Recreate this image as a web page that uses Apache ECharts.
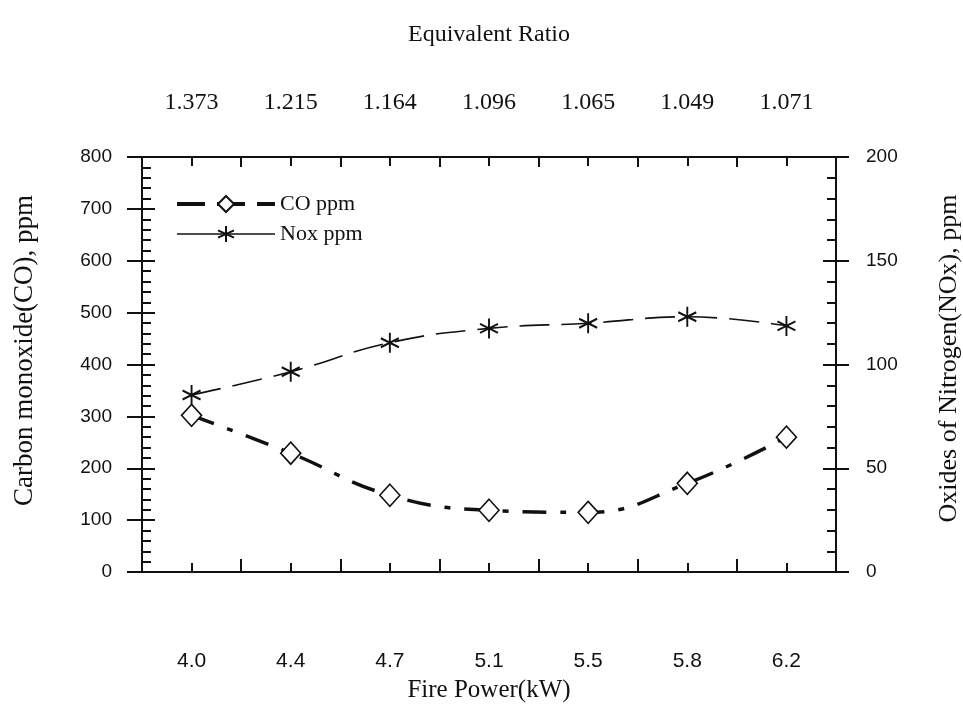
<!DOCTYPE html>
<html>
<head>
<meta charset="utf-8">
<style>
  html, body { margin: 0; padding: 0; background: #fff; }
  #chart { width: 963px; height: 705px; }
</style>
<script src="https://cdn.jsdelivr.net/npm/echarts@6/dist/echarts.min.js"></script>
</head>
<body>
<div id="chart"></div>
<script>
// Burner test: CO and NOx emissions against fire power, with equivalence ratio on top
const firePower = ['4.0', '4.4', '4.7', '5.1', '5.5', '5.8', '6.2'];
const equivalentRatio = ['1.373', '1.215', '1.164', '1.096', '1.065', '1.049', '1.071'];
const coPpm = [302, 229, 148, 119, 115, 171, 260];
const noxPpm = [85.3, 96.5, 110.5, 117.4, 119.9, 123, 118.6];

const serif = '"Liberation Serif", "Times New Roman", serif';
const sans = '"Liberation Sans", Arial, sans-serif';
const ink = '#111';
const starPath = 'path://M10,0L10,20M1.5,5.5L18.5,14.5M1.5,14.5L18.5,5.5';

const chart = echarts.init(document.getElementById('chart'), null, { renderer: 'canvas' });

const axisLine = { show: true, onZero: false, lineStyle: { color: ink, width: 2 } };
const hiddenLine = { show: false, onZero: false };
const tickStyle = { color: ink, width: 2 };

chart.setOption({
  animation: false,
  backgroundColor: '#fff',
  grid: { left: 142, right: 127, top: 157, bottom: 133, outerBoundsMode: 'none', containLabel: false },
  legend: {
    left: 170, top: 188, orient: 'vertical',
    itemWidth: 98, itemHeight: 20, itemGap: 8,
    textStyle: { fontFamily: serif, fontSize: 22, color: ink },
    data: [
      { name: 'CO ppm', lineStyle: { width: 4, type: [28, 12] } },
      { name: 'Nox ppm', lineStyle: { width: 1.6, type: 'solid' } }
    ]
  },
  xAxis: [
    { // bottom: fire power labels, ticks at category centres
      type: 'category', position: 'bottom', data: firePower, boundaryGap: true,
      name: 'Fire Power(kW)', nameLocation: 'middle', nameGap: 106,
      nameTextStyle: { fontFamily: serif, fontSize: 25, color: ink },
      axisLine: axisLine,
      axisTick: { show: true, inside: true, alignWithLabel: true, length: 9, lineStyle: tickStyle },
      axisLabel: { margin: 79, fontFamily: sans, fontSize: 21, color: ink },
      splitLine: { show: false }
    },
    { // top: equivalence ratio labels
      type: 'category', position: 'top', data: equivalentRatio, boundaryGap: true,
      name: 'Equivalent Ratio', nameLocation: 'middle', nameGap: 110,
      nameTextStyle: { fontFamily: serif, fontSize: 24, color: ink },
      axisLine: axisLine,
      axisTick: { show: true, inside: true, alignWithLabel: true, length: 9, lineStyle: tickStyle },
      axisLabel: { margin: 42, fontFamily: serif, fontSize: 24, color: ink },
      splitLine: { show: false }
    },
    { // bottom boundary ticks
      type: 'category', position: 'bottom', data: firePower, boundaryGap: true,
      axisLine: hiddenLine,
      axisTick: { show: true, inside: true, alignWithLabel: false, length: 13, lineStyle: tickStyle },
      axisLabel: { show: false }, splitLine: { show: false }
    },
    { // top boundary ticks
      type: 'category', position: 'top', data: equivalentRatio, boundaryGap: true,
      axisLine: hiddenLine,
      axisTick: { show: true, inside: true, alignWithLabel: false, length: 10, lineStyle: tickStyle },
      axisLabel: { show: false }, splitLine: { show: false }
    }
  ],
  yAxis: [
    { // left: CO
      type: 'value', position: 'left', min: 0, max: 800, interval: 100,
      name: 'Carbon monoxide(CO), ppm', nameLocation: 'middle', nameGap: 104, nameRotate: 90,
      nameTextStyle: { fontFamily: serif, fontSize: 27, color: ink, padding: [0, 0, 0, 28] },
      axisLine: axisLine,
      axisTick: { show: true, inside: true, length: 13, lineStyle: tickStyle },
      minorTick: { show: true, splitNumber: 5, length: 9, lineStyle: tickStyle },
      axisLabel: { margin: 30, fontFamily: sans, fontSize: 19, color: ink },
      splitLine: { show: false }
    },
    { // right: NOx
      type: 'value', position: 'right', min: 0, max: 200, interval: 50,
      name: 'Oxides of Nitrogen(NOx), ppm', nameLocation: 'middle', nameGap: 100, nameRotate: 90,
      nameTextStyle: { fontFamily: serif, fontSize: 26, color: ink, padding: [0, 0, 0, 12] },
      axisLine: axisLine,
      axisTick: { show: true, inside: true, length: 13, lineStyle: tickStyle },
      minorTick: { show: true, splitNumber: 5, length: 9, lineStyle: tickStyle },
      axisLabel: { margin: 30, fontFamily: sans, fontSize: 19, color: ink },
      splitLine: { show: false }
    },
    { // left outer half of major ticks
      type: 'value', position: 'left', min: 0, max: 800, interval: 100,
      axisLine: hiddenLine,
      axisTick: { show: true, inside: false, length: 15, lineStyle: tickStyle },
      axisLabel: { show: false }, splitLine: { show: false }
    },
    { // right outer half of major ticks
      type: 'value', position: 'right', min: 0, max: 200, interval: 50,
      axisLine: hiddenLine,
      axisTick: { show: true, inside: false, length: 13, lineStyle: tickStyle },
      axisLabel: { show: false }, splitLine: { show: false }
    }
  ],
  series: [
    {
      name: 'CO ppm', type: 'line', xAxisIndex: 0, yAxisIndex: 0,
      data: coPpm, smooth: 0.45,
      symbol: 'diamond', symbolSize: [20, 22],
      itemStyle: { color: '#fff', borderColor: ink, borderWidth: 1.6 },
      lineStyle: { color: ink, width: 3.5, type: [24, 14, 6, 14] },
      z: 3
    },
    {
      name: 'Nox ppm', type: 'line', xAxisIndex: 0, yAxisIndex: 1,
      data: noxPpm, smooth: 0.45,
      symbol: starPath, symbolSize: [18, 20],
      itemStyle: { color: 'transparent', borderColor: ink, borderWidth: 2 },
      lineStyle: { color: ink, width: 1.6, type: [30, 12] },
      z: 3
    }
  ]
});
</script>
</body>
</html>
